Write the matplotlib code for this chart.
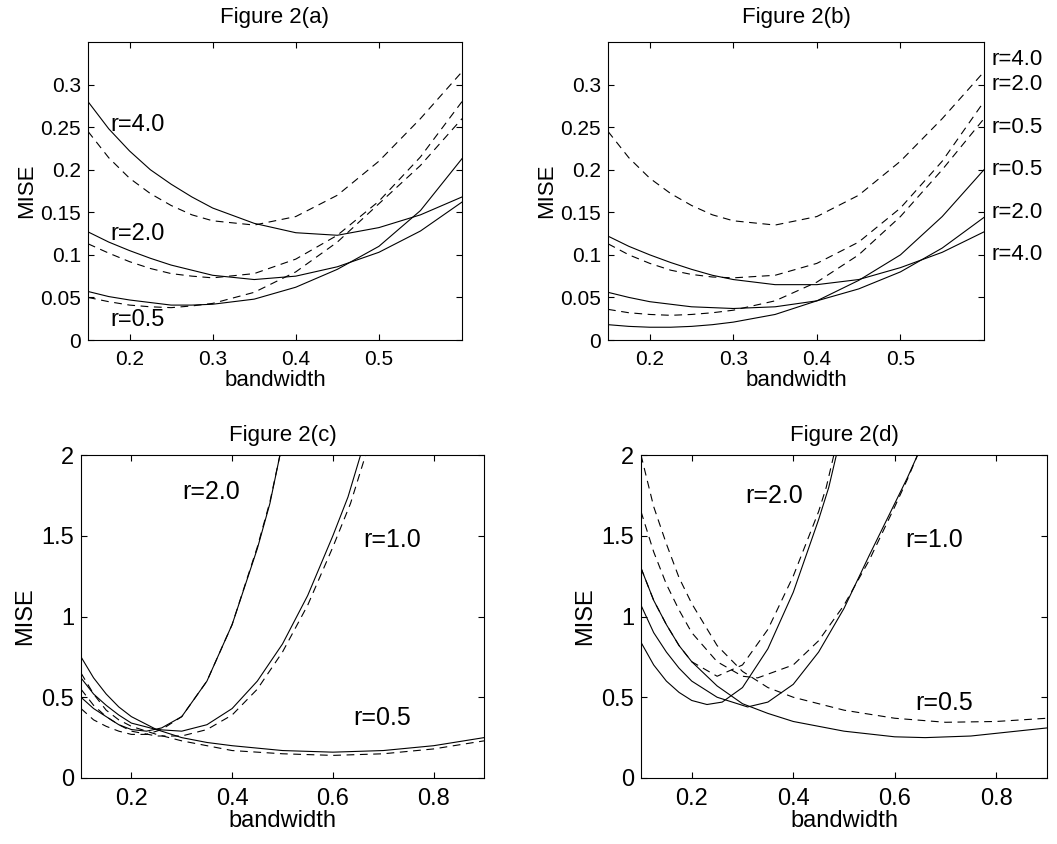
import matplotlib
matplotlib.use("Agg")
import matplotlib.pyplot as plt

plt.rcParams['font.family'] = ['Liberation Sans', 'DejaVu Sans']

# ---- Figure 2(a) ----
xa = [0.15, 0.175, 0.2, 0.225, 0.25, 0.275, 0.3, 0.35, 0.4, 0.45, 0.5, 0.55, 0.6]
a_s40 = [0.28, 0.248, 0.222, 0.2, 0.183, 0.168, 0.155, 0.137, 0.126, 0.123, 0.132, 0.147, 0.168]
a_d40 = [0.245, 0.214, 0.19, 0.172, 0.158, 0.147, 0.14, 0.135, 0.145, 0.17, 0.21, 0.26, 0.315]
a_s20 = [0.127, 0.115, 0.105, 0.096, 0.088, 0.082, 0.076, 0.071, 0.075, 0.086, 0.103, 0.128, 0.162]
a_d20 = [0.113, 0.102, 0.092, 0.084, 0.078, 0.075, 0.073, 0.078, 0.095, 0.123, 0.163, 0.215, 0.28]
a_s05 = [0.057, 0.051, 0.047, 0.044, 0.041, 0.041, 0.042, 0.048, 0.062, 0.083, 0.11, 0.152, 0.213]
a_d05 = [0.05, 0.045, 0.041, 0.039, 0.038, 0.04, 0.043, 0.056, 0.08, 0.115, 0.16, 0.205, 0.26]

# ---- Figure 2(b) ----
b_s1 = [0.122, 0.11, 0.1, 0.091, 0.083, 0.076, 0.071, 0.065, 0.065, 0.071, 0.085, 0.103, 0.127]
b_s2 = [0.056, 0.05, 0.045, 0.042, 0.039, 0.038, 0.037, 0.039, 0.046, 0.06, 0.08, 0.108, 0.144]
b_s3 = [0.018, 0.016, 0.015, 0.015, 0.016, 0.018, 0.021, 0.03, 0.046, 0.07, 0.1, 0.145, 0.2]
b_d1 = [0.245, 0.214, 0.19, 0.172, 0.158, 0.147, 0.14, 0.135, 0.145, 0.17, 0.21, 0.26, 0.315]
b_d2 = [0.113, 0.1, 0.09, 0.082, 0.077, 0.074, 0.073, 0.076, 0.09, 0.115, 0.155, 0.21, 0.28]
b_d3 = [0.036, 0.032, 0.03, 0.029, 0.03, 0.032, 0.035, 0.046, 0.068, 0.1, 0.145, 0.2, 0.26]
b_labels = ["r=4.0", "r=2.0", "r=0.5", "r=0.5", "r=2.0", "r=4.0"]
b_label_y = [0.33, 0.3, 0.25, 0.2, 0.15, 0.1]

# ---- Figure 2(c) ----
c_x20 = [0.1, 0.125, 0.15, 0.175, 0.2, 0.23, 0.26, 0.3, 0.35, 0.4, 0.45, 0.475, 0.495]
c_s20 = [0.5, 0.43, 0.38, 0.33, 0.3, 0.29, 0.31, 0.38, 0.6, 0.95, 1.42, 1.7, 2.0]
c_d20 = [0.43, 0.36, 0.32, 0.29, 0.27, 0.27, 0.3, 0.38, 0.6, 0.95, 1.43, 1.71, 2.0]
c_x10 = [0.1, 0.125, 0.15, 0.175, 0.2, 0.25, 0.3, 0.35, 0.4, 0.45, 0.5, 0.55, 0.6, 0.63, 0.655]
c_s10 = [0.62, 0.52, 0.45, 0.39, 0.34, 0.3, 0.29, 0.33, 0.43, 0.6, 0.83, 1.13, 1.5, 1.74, 2.0]
c_xd10 = [0.1, 0.125, 0.15, 0.175, 0.2, 0.25, 0.3, 0.35, 0.4, 0.45, 0.5, 0.55, 0.6, 0.635, 0.665]
c_d10 = [0.55, 0.45, 0.38, 0.33, 0.29, 0.26, 0.26, 0.3, 0.39, 0.55, 0.78, 1.07, 1.43, 1.7, 2.0]
c_x05 = [0.1, 0.125, 0.15, 0.175, 0.2, 0.25, 0.3, 0.35, 0.4, 0.5, 0.6, 0.7, 0.8, 0.9]
c_s05 = [0.75, 0.62, 0.52, 0.44, 0.38, 0.3, 0.25, 0.22, 0.2, 0.17, 0.16, 0.17, 0.2, 0.25]
c_d05 = [0.65, 0.52, 0.42, 0.36, 0.32, 0.27, 0.23, 0.2, 0.17, 0.15, 0.14, 0.15, 0.18, 0.23]

# ---- Figure 2(d) ----
d_x20 = [0.1, 0.125, 0.15, 0.175, 0.2, 0.23, 0.26, 0.3, 0.35, 0.4, 0.45, 0.47, 0.485]
d_s20 = [0.84, 0.7, 0.6, 0.53, 0.48, 0.455, 0.47, 0.56, 0.8, 1.15, 1.6, 1.8, 2.0]
d_xd20 = [0.1, 0.125, 0.15, 0.175, 0.2, 0.25, 0.3, 0.35, 0.4, 0.45, 0.465, 0.48]
d_d20 = [1.3, 1.1, 0.95, 0.82, 0.72, 0.63, 0.7, 0.92, 1.25, 1.65, 1.8, 2.0]
d_x10 = [0.1, 0.125, 0.15, 0.175, 0.2, 0.25, 0.31, 0.35, 0.4, 0.45, 0.5, 0.55, 0.6, 0.625, 0.645]
d_s10 = [1.07, 0.9, 0.78, 0.68, 0.6, 0.5, 0.44, 0.47, 0.58, 0.78, 1.05, 1.38, 1.7, 1.86, 2.0]
d_xd10 = [0.1, 0.125, 0.15, 0.175, 0.2, 0.25, 0.3, 0.33, 0.4, 0.45, 0.5, 0.55, 0.6, 0.625, 0.645]
d_d10 = [1.65, 1.4, 1.2, 1.04, 0.9, 0.72, 0.63, 0.62, 0.7, 0.85, 1.07, 1.35, 1.68, 1.85, 2.0]
d_x05 = [0.1, 0.125, 0.15, 0.175, 0.2, 0.25, 0.3, 0.35, 0.4, 0.5, 0.6, 0.66, 0.75, 0.9]
d_s05 = [1.3, 1.1, 0.95, 0.82, 0.72, 0.57, 0.46, 0.4, 0.35, 0.29, 0.255, 0.25, 0.26, 0.31]
d_xd05 = [0.1, 0.125, 0.15, 0.175, 0.2, 0.25, 0.3, 0.35, 0.4, 0.5, 0.6, 0.7, 0.8, 0.9]
d_d05 = [2.0, 1.68, 1.45, 1.24, 1.08, 0.82, 0.66, 0.56, 0.5, 0.42, 0.37, 0.345, 0.35, 0.37]

W, H = 1057, 844
fig = plt.figure(figsize=(W / 100, H / 100), dpi=100)


def make_ax(l, r, t, b):
    ax = fig.add_axes([l / W, 1 - b / H, (r - l) / W, (b - t) / H])
    ax.tick_params(direction='in', top=True, right=True, length=4)
    ax.tick_params(axis='x', pad=7)
    ax.tick_params(axis='y', pad=5)
    return ax


sl = dict(color='k', lw=0.8)
dl = dict(color='k', lw=0.8, ls=(0, (7, 5)))
yt_small = [0, 0.05, 0.1, 0.15, 0.2, 0.25, 0.3]
yl_small = ['0', '0.05', '0.1', '0.15', '0.2', '0.25', '0.3']

ax = make_ax(88, 462, 42, 340)
for s in (a_s40, a_s20, a_s05):
    ax.plot(xa, s, **sl)
for d in (a_d40, a_d20, a_d05):
    ax.plot(xa, d, **dl)
ax.set_xlim(0.15, 0.6)
ax.set_ylim(0, 0.35)
ax.set_xticks([0.2, 0.3, 0.4, 0.5])
ax.set_yticks(yt_small)
ax.set_yticklabels(yl_small)
ax.tick_params(labelsize=15)
ax.text(0.177, 0.245, "r=4.0", fontsize=17)
ax.text(0.177, 0.117, "r=2.0", fontsize=17)
ax.text(0.177, 0.017, "r=0.5", fontsize=17)
ax.set_title("Figure 2(a)", fontsize=16, pad=14)
ax.set_xlabel("bandwidth", fontsize=16, labelpad=1)
ax.set_ylabel("MISE", fontsize=16, labelpad=2)

ax = make_ax(608, 984, 42, 340)
for s in (b_s1, b_s2, b_s3):
    ax.plot(xa, s, **sl)
for d in (b_d1, b_d2, b_d3):
    ax.plot(xa, d, **dl)
ax.set_xlim(0.15, 0.6)
ax.set_ylim(0, 0.35)
ax.set_xticks([0.2, 0.3, 0.4, 0.5])
ax.set_yticks(yt_small)
ax.set_yticklabels(yl_small)
ax.tick_params(labelsize=15)
for lab, y in zip(b_labels, b_label_y):
    ax.text(1.02, y, lab, fontsize=16, va='center', transform=ax.get_yaxis_transform())
ax.set_title("Figure 2(b)", fontsize=16, pad=14)
ax.set_xlabel("bandwidth", fontsize=16, labelpad=1)
ax.set_ylabel("MISE", fontsize=16, labelpad=2)

ax = make_ax(81, 484, 455, 778)
ax.plot(c_x20, c_s20, **sl)
ax.plot(c_x20, c_d20, **dl)
ax.plot(c_x10, c_s10, **sl)
ax.plot(c_xd10, c_d10, **dl)
ax.plot(c_x05, c_s05, **sl)
ax.plot(c_x05, c_d05, **dl)
ax.set_xlim(0.1, 0.9)
ax.set_ylim(0, 2)
ax.set_xticks([0.2, 0.4, 0.6, 0.8])
ax.set_yticks([0, 0.5, 1, 1.5, 2])
ax.set_yticklabels(['0', '0.5', '1', '1.5', '2'])
ax.tick_params(labelsize=17)
ax.text(0.3, 1.73, "r=2.0", fontsize=18)
ax.text(0.66, 1.43, "r=1.0", fontsize=18)
ax.text(0.64, 0.33, "r=0.5", fontsize=18)
ax.set_title("Figure 2(c)", fontsize=16, pad=10)
ax.set_xlabel("bandwidth", fontsize=17, labelpad=0)
ax.set_ylabel("MISE", fontsize=17, labelpad=4)

ax = make_ax(641, 1047, 455, 778)
ax.plot(d_x20, d_s20, **sl)
ax.plot(d_xd20, d_d20, **dl)
ax.plot(d_x10, d_s10, **sl)
ax.plot(d_xd10, d_d10, **dl)
ax.plot(d_x05, d_s05, **sl)
ax.plot(d_xd05, d_d05, **dl)
ax.set_xlim(0.1, 0.9)
ax.set_ylim(0, 2)
ax.set_xticks([0.2, 0.4, 0.6, 0.8])
ax.set_yticks([0, 0.5, 1, 1.5, 2])
ax.set_yticklabels(['0', '0.5', '1', '1.5', '2'])
ax.tick_params(labelsize=17)
ax.text(0.305, 1.7, "r=2.0", fontsize=18)
ax.text(0.62, 1.43, "r=1.0", fontsize=18)
ax.text(0.64, 0.42, "r=0.5", fontsize=18)
ax.set_title("Figure 2(d)", fontsize=16, pad=10)
ax.set_xlabel("bandwidth", fontsize=17, labelpad=0)
ax.set_ylabel("MISE", fontsize=17, labelpad=4)

fig.savefig("out.png", dpi=100)
